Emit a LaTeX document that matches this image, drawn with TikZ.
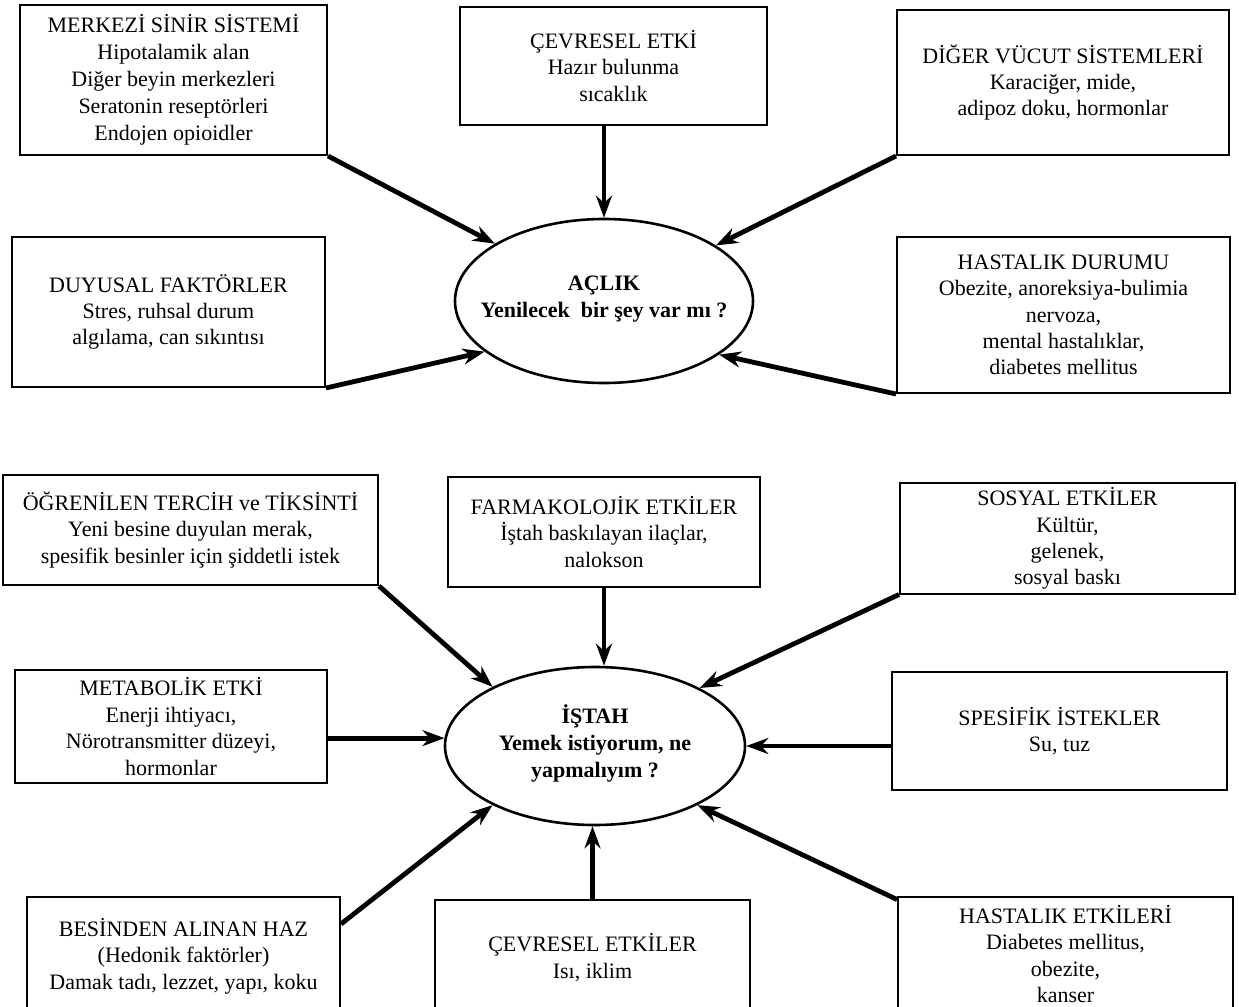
\documentclass[tikz,border=0pt]{standalone}
\usepackage{fontspec}
\setmainfont{Liberation Serif}
\usetikzlibrary{arrows.meta,shapes.geometric,calc}
\begin{document}
\begin{tikzpicture}[x=0.5pt,y=-0.5pt,
  box/.style={draw,line width=1pt,rectangle,align=center,inner sep=2pt,font=\fontsize{11}{13.2}\selectfont},
  oval/.style={draw,line width=1.3pt,ellipse,inner sep=0pt},
  ovaltext/.style={align=center,inner sep=0pt,font=\bfseries\fontsize{11}{13.5}\selectfont},
  arr/.style={line width=2.4pt,-{Stealth[length=11pt,width=8pt]}}]
\useasboundingbox (0,0) rectangle (1239,1007);
\clip (0,0) rectangle (1239,1007);
\fill[white] (0,0) rectangle (1239,1007);

% --- top part: hunger
\node[box,minimum width=153.5pt,minimum height=75pt,font=\fontsize{11}{13.5}\selectfont] (mss) at (173.5,80)
  {MERKEZİ SİNİR SİSTEMİ\\Hipotalamik alan\\Diğer beyin merkezleri\\Seratonin reseptörleri\\Endojen opioidler};
\node[box,minimum width=153.5pt,minimum height=59pt] (ce) at (613.5,66)
  {ÇEVRESEL ETKİ\\Hazır bulunma\\sıcaklık};
\node[box,minimum width=166pt,minimum height=72.5pt] (dv) at (1063,82.5)
  {DİĞER VÜCUT SİSTEMLERİ\\Karaciğer, mide,\\adipoz doku, hormonlar};
\node[box,minimum width=156.5pt,minimum height=75pt] (du) at (168.5,312)
  {DUYUSAL FAKTÖRLER\\Stres, ruhsal durum\\algılama, can sıkıntısı};
\node[box,minimum width=166.5pt,minimum height=78pt] (hd) at (1063.5,315)
  {HASTALIK DURUMU\\Obezite, anoreksiya-bulimia\\nervoza,\\mental hastalıklar,\\diabetes mellitus};
\node[oval,minimum width=149pt,minimum height=82pt] (ac) at (604,301) {};
\node[ovaltext] (actext) at (604,299) {AÇLIK\\Yenilecek\ \ bir şey var mı ?};

% --- bottom part: appetite
\node[box,minimum width=187.5pt,minimum height=55pt] (og) at (190.5,530)
  {ÖĞRENİLEN TERCİH ve TİKSİNTİ\\Yeni besine duyulan merak,\\spesifik besinler için şiddetli istek};
\node[box,minimum width=156pt,minimum height=55pt] (fa) at (604,532)
  {FARMAKOLOJİK ETKİLER\\İştah baskılayan ilaçlar,\\nalokson};
\node[box,minimum width=167.5pt,minimum height=54.5pt] (so) at (1067.5,538.5)
  {SOSYAL ETKİLER\\Kültür,\\gelenek,\\sosyal baskı};
\node[box,minimum width=156pt,minimum height=56.5pt] (me) at (171,726.5)
  {METABOLİK ETKİ\\Enerji ihtiyacı,\\Nörotransmitter düzeyi,\\hormonlar};
\node[box,minimum width=167.5pt,minimum height=59pt] (sp) at (1059.5,731)
  {SPESİFİK İSTEKLER\\Su, tuz};
\node[oval,minimum width=150pt,minimum height=79pt] (is) at (595,746) {};
\node[ovaltext] (istext) at (595,743) {İŞTAH\\Yemek istiyorum, ne\\yapmalıyım ?};
\node[box,minimum width=156.5pt,minimum height=59pt] (be) at (183.5,956)
  {BESİNDEN ALINAN HAZ\\(Hedonik faktörler)\\Damak tadı, lezzet, yapı, koku};
\node[box,minimum width=157.5pt,minimum height=57.5pt] (ce2) at (592.5,957.5)
  {ÇEVRESEL ETKİLER\\Isı, iklim};
\node[box,minimum width=167.5pt,minimum height=57.5pt] (he) at (1065.5,954)
  {HASTALIK ETKİLERİ\\Diabetes mellitus,\\obezite,\\kanser};

% --- connectors
\draw[arr] (mss.south east) -- (ac);
\draw[arr] (ac.north |- ce.south) -- (ac.north);
\draw[arr] (dv.south west) -- (ac);
\draw[arr] (du.south east) -- (ac.203);
\draw[arr] (hd.south west) -- (ac.335);

\draw[arr] (og.south east) -- (is.150);
\draw[arr] (fa.south) -- (fa.south |- is.north);
\draw[arr] (so.south west) -- (is.29);
\draw[arr] (me.east |- is.177) -- (is.177);
\draw[arr] (sp.west |- is.east) -- (is.east);
\draw[arr] ($(be.north east)+(0,28)$) -- (is.210);
\draw[arr] (ce2.north) -- (ce2.north |- is.south);
\draw[arr] ($(he.north west)+(0,4)$) -- (is.330);
\end{tikzpicture}
\end{document}
